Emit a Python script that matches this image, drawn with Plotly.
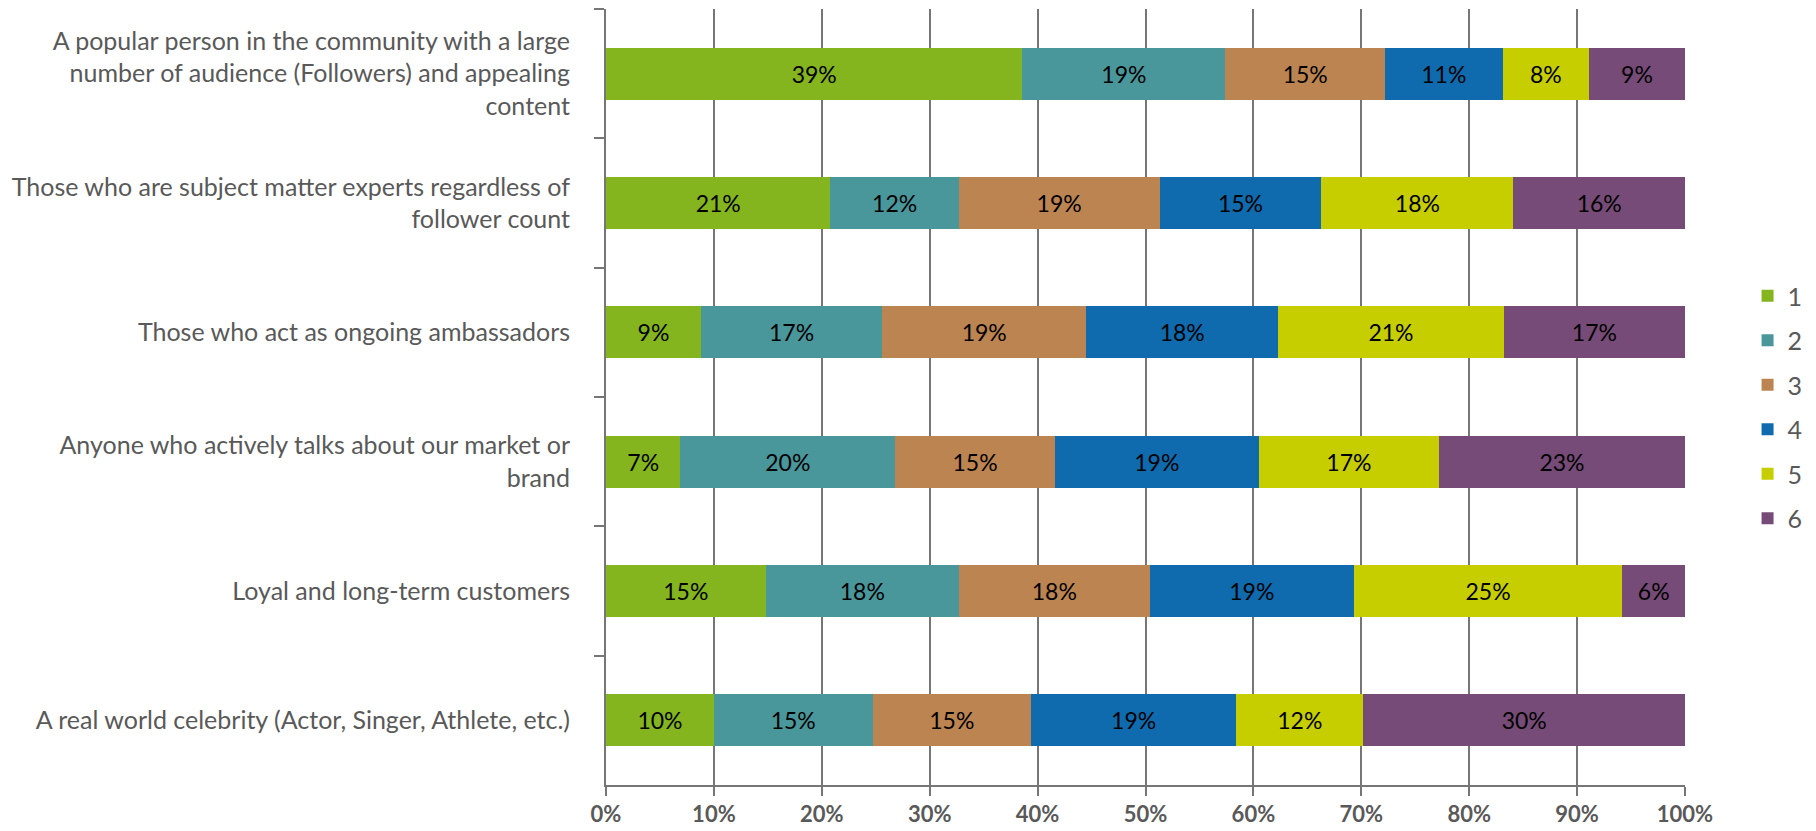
import plotly.graph_objects as go

# Statements (top to bottom) and the share of respondents giving each rank (1-6), in %
categories = [
    "A popular person in the community with a large<br>number of audience (Followers) and appealing<br>content",
    "Those who are subject matter experts regardless of<br>follower count",
    "Those who act as ongoing ambassadors",
    "Anyone who actively talks about our market or<br>brand",
    "Loyal and long-term customers",
    "A real world celebrity (Actor, Singer, Athlete, etc.)",
]
rank_names = ["1", "2", "3", "4", "5", "6"]
rank_1 = [38.6, 20.8, 8.8, 6.9, 14.8, 10.0]
rank_2 = [18.8, 11.9, 16.8, 19.9, 17.9, 14.7]
rank_3 = [14.8, 18.6, 18.9, 14.8, 17.7, 14.7]
rank_4 = [10.9, 15.0, 17.8, 18.9, 18.9, 19.0]
rank_5 = [8.0, 17.8, 20.9, 16.7, 24.9, 11.8]
rank_6 = [8.9, 15.9, 16.8, 22.8, 5.8, 29.8]
x_ticks = [0, 10, 20, 30, 40, 50, 60, 70, 80, 90, 100]

series = [rank_1, rank_2, rank_3, rank_4, rank_5, rank_6]
colors = ["#84B51F", "#4A979B", "#BC8450", "#0F6BAE", "#C6CE00", "#774B77"]

FONT = "Lato, 'Open Sans', sans-serif"
GRID = "#767676"
TEXT = "#595959"

fig = go.Figure()
for name, vals, col in zip(rank_names, series, colors):
    fig.add_trace(go.Bar(
        y=categories,
        x=vals,
        name=name,
        orientation="h",
        marker=dict(color=col, line=dict(width=0)),
        texttemplate="%{x:.0f}%",
        textposition="inside",
        insidetextanchor="middle",
        textangle=0,
        constraintext="none",
        textfont=dict(family=FONT, size=23, color="#000000"),
        legendgroup=name,
        hoverinfo="skip",
    ))

fig.update_layout(
    barmode="stack",
    bargap=0.6,
    width=1816,
    height=831,
    margin=dict(l=606, r=130, t=9, b=46),
    plot_bgcolor="white",
    paper_bgcolor="white",
    font=dict(family=FONT, color=TEXT),
    legend=dict(
        x=1.057, xanchor="left",
        y=0.487, yanchor="middle",
        font=dict(family=FONT, size=25, color=TEXT),
        traceorder="grouped",
        tracegroupgap=9,
        bgcolor="rgba(0,0,0,0)",
    ),
    xaxis=dict(
        range=[0, 100],
        tickvals=x_ticks,
        ticktext=[f"<b>{v}%</b>" for v in x_ticks],
        tickfont=dict(family=FONT, size=22, color=TEXT),
        ticklabelstandoff=0,
        showgrid=True, gridcolor=GRID, gridwidth=2,
        showline=True, linecolor=GRID, linewidth=2,
        ticks="outside", ticklen=9, tickcolor=GRID, tickwidth=2,
        zeroline=False,
        automargin=False,
        fixedrange=True,
    ),
    yaxis=dict(
        categoryorder="array",
        categoryarray=categories,
        autorange="reversed",
        tickson="boundaries",
        ticks="outside", ticklen=10, tickcolor=GRID, tickwidth=2,
        showline=True, linecolor=GRID, linewidth=2,
        showgrid=False,
        tickfont=dict(family=FONT, size=25, color=TEXT),
        ticklabelstandoff=29,
        automargin=False,
        fixedrange=True,
    ),
)

fig.write_html("out.html")
